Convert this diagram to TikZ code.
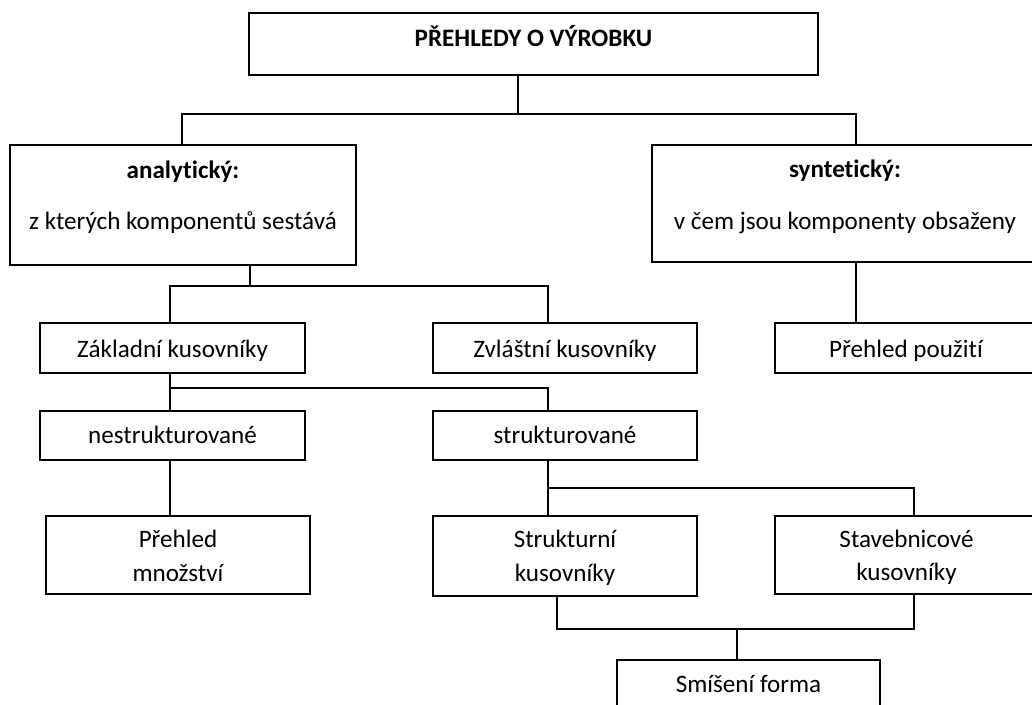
\documentclass[tikz,border=0pt]{standalone}
\usepackage{fontspec}
\setmainfont{Carlito}[Ligatures=NoCommon]
\begin{document}
\begin{tikzpicture}[x=1pt,y=-1pt,
  box/.style={draw, line width=2pt, rectangle, anchor=north west, outer sep=0pt, inner sep=0pt},
  txt/.style={anchor=base, inner sep=0pt, font=\fontsize{25.1}{30}\selectfont},
  btxt/.style={anchor=base, inner sep=0pt, font=\fontsize{25.1}{30}\selectfont\bfseries},
  link/.style={line width=2pt}]
\useasboundingbox (0,0) rectangle (1032,704);

% boxes (top-left corner, size)
\node[box, minimum width=569pt, minimum height=62pt]  (top)   at (249,13)  {};
\node[box, minimum width=346pt, minimum height=120pt] (ana)   at (10,145)  {};
\node[box, minimum width=386pt, minimum height=117pt] (syn)   at (652,145) {};
\node[box, minimum width=265pt, minimum height=50pt]  (zakl)  at (40,323)  {};
\node[box, minimum width=264pt, minimum height=50pt]  (zvl)   at (433,323) {};
\node[box, minimum width=263pt, minimum height=50pt]  (pouz)  at (775,323) {};
\node[box, minimum width=265pt, minimum height=49pt]  (nestr) at (40,411)  {};
\node[box, minimum width=264pt, minimum height=49pt]  (strukt) at (433,411) {};
\node[box, minimum width=264pt, minimum height=78pt]  (mnoz)  at (46,516)  {};
\node[box, minimum width=264pt, minimum height=80pt]  (strni) at (433,516) {};
\node[box, minimum width=263pt, minimum height=78pt]  (stav)  at (775,516) {};
\node[box, minimum width=263pt, minimum height=62pt]  (smis)  at (617,660) {};

% labels (placed on their baselines)
\node[btxt] (top-t)    at (533.5,46.5) {PŘEHLEDY O VÝROBKU};
\node[btxt] (ana-t1)   at (183,178)   {analytický:};
\node[txt]  (ana-t2)   at (183,229)   {z kterých komponentů sestává};
\node[btxt] (syn-t1)   at (845,177)   {syntetický:};
\node[txt]  (syn-t2)   at (845,229)   {v čem jsou komponenty obsaženy};
\node[txt]  (zakl-t)   at (172.5,357) {Základní kusovníky};
\node[txt]  (zvl-t)    at (565,357)   {Zvláštní kusovníky};
\node[txt]  (pouz-t)   at (906,357)   {Přehled použití};
\node[txt]  (nestr-t)  at (172.5,443) {nestrukturované};
\node[txt]  (strukt-t) at (565,443)   {strukturované};
\node[txt]  (mnoz-t1)  at (178,547)   {Přehled};
\node[txt]  (mnoz-t2)  at (178,581)   {množství};
\node[txt]  (strni-t1) at (565,547)   {Strukturní};
\node[txt]  (strni-t2) at (565,581)   {kusovníky};
\node[txt]  (stav-t1)  at (906.5,547) {Stavebnicové};
\node[txt]  (stav-t2)  at (906.5,580) {kusovníky};
\node[txt]  (smis-t)   at (748.5,692) {Smíšení forma};

% bus points
\coordinate (b1)  at (517.5,114);
\coordinate (b1L) at (182,114);
\coordinate (b1R) at (856,114);
\coordinate (b2)  at (250,286);
\coordinate (b2L) at (170,286);
\coordinate (b2R) at (547.5,286);
\coordinate (b3L) at (170,388);
\coordinate (b3R) at (547.5,388);
\coordinate (b4L) at (547.5,488);
\coordinate (b4R) at (914,488);
\coordinate (b5L) at (557,629);
\coordinate (b5R) at (914,629);
\coordinate (b5M) at (736.5,629);

% connectors
\draw[link] (top.south -| b1) -- (b1);
\draw[link] (ana.north -| b1L) |- (b1R) -- (syn.north -| b1R);
\draw[link] (ana.south -| b2) -- (b2);
\draw[link] (zakl.north -| b2L) |- (b2R) -- (zvl.north -| b2R);
\draw[link] (syn.south -| b1R) -- (pouz.north -| b1R);
\draw[link] (zakl.south -| b3L) -- (nestr.north -| b3L);
\draw[link] (b3L) -| (strukt.north -| b3R);
\draw[link] (nestr.south -| b3L) -- (mnoz.north -| b3L);
\draw[link] (strukt.south -| b4L) -- (strni.north -| b4L);
\draw[link] (b4L) -| (stav.north -| b4R);
\draw[link] (strni.south -| b5L) |- (b5R) -- (stav.south -| b5R);
\draw[link] (b5M) -- (smis.north -| b5M);
\end{tikzpicture}
\end{document}
